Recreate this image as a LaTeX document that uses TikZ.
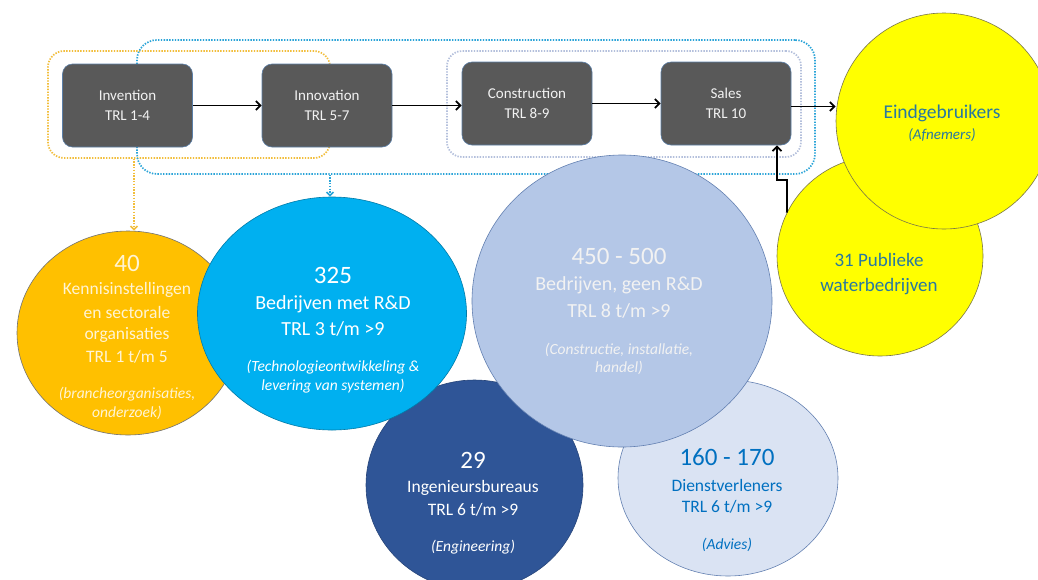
\documentclass[tikz,border=0pt]{standalone}
\usepackage{fontspec}
\setmainfont{Carlito}
\usetikzlibrary{shapes.geometric,arrows.meta}
\definecolor{boxgray}{HTML}{595959}
\definecolor{boxline}{HTML}{5B7FA8}
\definecolor{boxtext}{HTML}{F2F2F2}
\definecolor{dotyellow}{HTML}{F2BE3C}
\definecolor{dotblue}{HTML}{2AA4D8}
\definecolor{dotlav}{HTML}{B4C0DC}
\definecolor{orangefill}{HTML}{FFC000}
\definecolor{orangetext}{HTML}{FFF4D4}
\definecolor{bluefill}{HTML}{00B0F0}
\definecolor{darkfill}{HTML}{2F5597}
\definecolor{steelfill}{HTML}{B4C7E7}
\definecolor{lightfill}{HTML}{DAE3F3}
\definecolor{lighttext}{HTML}{0070C0}
\definecolor{yelfill}{HTML}{FFFF00}
\definecolor{yeltext}{HTML}{2878A0}
\newcommand\fbig{\fontsize{25}{30}\selectfont}
\newcommand\fbody{\fontsize{17.5}{21}\selectfont}
\newcommand\fbodyl{\fontsize{20}{24}\selectfont}
\newcommand\fital{\fontsize{15.5}{19}\selectfont\itshape}
\begin{document}
\begin{tikzpicture}[x=1pt,y=-1pt,
  stagebox/.style={draw=boxline, line width=0.6pt, fill=boxgray, rounded corners=10pt,
    minimum width=130pt, minimum height=83pt, inner sep=0pt, align=center,
    text=boxtext, font=\fontsize{15}{19.5}\selectfont},
  grp/.style={rounded corners=#1, line width=1.7pt, dash pattern=on 1.4pt off 1.4pt, inner sep=0pt},
  arr/.style={-{Straight Barb[length=4.5pt,width=9pt]}, line width=1.8pt, black},
  dotarr/.style={-{Straight Barb[length=3.5pt,width=7pt]}, line width=1.6pt, dash pattern=on 1.4pt off 1.4pt},
  blob/.style={ellipse, inner sep=0pt, line width=0.6pt},
  lbl/.style={inner sep=0pt, align=center}]
\useasboundingbox (0,0) rectangle (1038,579);
\clip (0,0) rectangle (1038,579);
\fill[white] (0,0) rectangle (1038,579);

% dotted group frames
\node[grp=16pt, draw=dotyellow, minimum width=282pt, minimum height=107pt] (ybox) at (189,104.5) {};
\node[grp=20pt, draw=dotblue, minimum width=678pt, minimum height=134pt] (bbox) at (476,107) {};
\node[grp=15pt, draw=dotlav, minimum width=354pt, minimum height=106pt] (lbox) at (624,104) {};

% stage boxes
\node[stagebox] (inv) at (127.5,105.5) {Invention\\TRL 1-4};
\node[stagebox] (inn) at (327,105.5) {Innovation\\TRL 5-7};
\node[stagebox] (con) at (527,103.5) {Construction\\TRL 8-9};
\node[stagebox] (sal) at (726,103.5) {Sales\\TRL 10};

% circles
\node[blob, draw=black!55, fill=orangefill, minimum width=222pt, minimum height=204pt] (orange) at (128,333) {};
\node[blob, draw=darkfill!80!black, fill=darkfill, minimum width=217pt, minimum height=210pt] (dark) at (474.5,485) {};
\node[blob, draw=bluefill!70!black, fill=bluefill, minimum width=269pt, minimum height=233pt] (blue) at (332,313.5) {};
\node[blob, draw=darkfill!75, fill=lightfill, minimum width=220pt, minimum height=196pt] (light) at (728,478) {};
\node[blob, draw=darkfill!75, fill=steelfill, minimum width=300pt, minimum height=292pt] (steel) at (622,301) {};
\node[blob, draw=black!60!yellow, fill=yelfill, minimum width=206pt, minimum height=200pt] (pub) at (880,256) {};
\node[blob, draw=black!60!yellow, fill=yelfill, minimum width=216pt, minimum height=216pt] (eind) at (944,121) {};

% connectors
\draw[arr] (inv.east) -- (inn.west);
\draw[arr] (inn.east) -- (inn.east -| con.west);
\draw[arr] (con.east) -- (sal.west);
\draw[arr] ([yshift=-3pt]sal.east) -- ([yshift=-3pt]sal.east -| eind.west);
\coordinate (bend1) at (787,180);
\coordinate (bend2) at (777,180);
\draw[arr] (pub.155) -- (bend1) -- (bend2) -- (bend2 |- sal.south);
\coordinate (ya) at (134,158.5);
\draw[dotarr, draw=dotyellow] (ya) -- (ya |- orange.north);
\coordinate (ba) at (330,174.5);
\draw[dotarr, draw=dotblue] (ba) -- (ba |- blue.north);

% orange texts
\begin{scope}[every node/.style={lbl, text=orangetext}]
\node[font=\fbig] (o1) at (127,263) {40};
\node[font=\fbody] (o2) at (127,290) {Kennisinstellingen};
\node[font=\fbody] (o3) at (127,312.5) {en sectorale};
\node[font=\fbody] (o4) at (127,335) {organisaties};
\node[font=\fbody] (o5) at (127,357) {TRL 1 t/m 5};
\node[font=\fital] (o6) at (127,394.5) {(brancheorganisaties,};
\node[font=\fital] (o7) at (127,413) {onderzoek)};
\end{scope}
% blue texts
\begin{scope}[every node/.style={lbl, text=white}]
\node[font=\fbig] (b1) at (333,275) {325};
\node[font=\fbodyl] (b2) at (333,304) {Bedrijven met R\&D};
\node[font=\fbodyl] (b3) at (333,329) {TRL 3 t/m >9};
\node[font=\fital] (b4) at (333,367) {(Technologieontwikkeling \&};
\node[font=\fital] (b5) at (333,386) {levering van systemen)};
\end{scope}
% steel texts
\begin{scope}[every node/.style={lbl, text=boxtext}]
\node[font=\fbig] (s1) at (619,256) {450 - 500};
\node[font=\fbodyl] (s2) at (619,285) {Bedrijven, geen R\&D};
\node[font=\fbodyl] (s3) at (619,311) {TRL 8 t/m >9};
\node[font=\fital] (s4) at (619,350) {(Constructie, installatie,};
\node[font=\fital] (s5) at (619,368) {handel)};
\end{scope}
% dark blue texts
\begin{scope}[every node/.style={lbl, text=white}]
\node[font=\fbig] (d1) at (473,460) {29};
\node[font=\fbody] (d2) at (473,488) {Ingenieursbureaus};
\node[font=\fbody] (d3) at (473,510) {TRL 6 t/m >9};
\node[font=\fital] (d4) at (473,547) {(Engineering)};
\end{scope}
% light blue texts
\begin{scope}[every node/.style={lbl, text=lighttext}]
\node[font=\fbig] (l1) at (727,457) {160 - 170};
\node[font=\fbody] (l2) at (727,485) {Dienstverleners};
\node[font=\fbody] (l3) at (727,507) {TRL 6 t/m >9};
\node[font=\fital] (l4) at (727,545) {(Advies)};
\end{scope}
% yellow texts
\begin{scope}[every node/.style={lbl, text=yeltext}]
\node[font=\fontsize{19.5}{23}\selectfont] (e1) at (942,113) {Eindgebruikers};
\node[font=\fontsize{15}{18}\selectfont\itshape] (e2) at (942,135) {(Afnemers)};
\node[font=\fontsize{19}{23}\selectfont] (p1) at (879,260) {31 Publieke};
\node[font=\fontsize{19}{23}\selectfont] (p2) at (879,287) {waterbedrijven};
\end{scope}
\end{tikzpicture}
\end{document}
